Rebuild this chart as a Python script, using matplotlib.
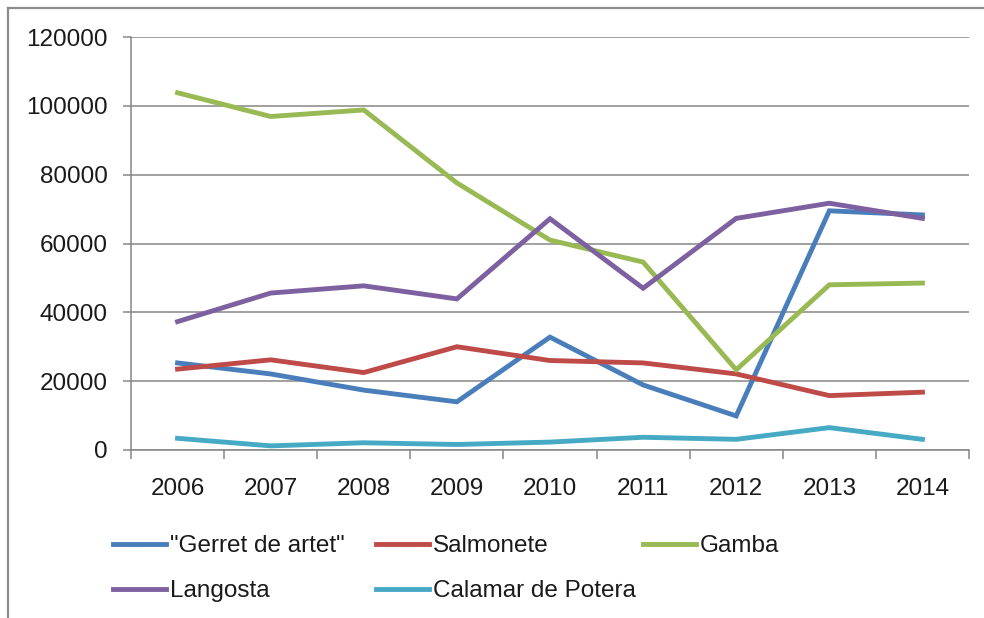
import numpy as np
import matplotlib.pyplot as plt
from matplotlib.lines import Line2D

### Data

years = ["2006", "2007", "2008", "2009", "2010", "2011", "2012", "2013", "2014"]
gerret = [25300, 22100, 17400, 14000, 32800, 18900, 9900, 69500, 68300]
salmonete = [23500, 26200, 22500, 30000, 26000, 25300, 22100, 15800, 16800]
gamba = [103800, 96900, 98800, 77600, 61000, 54600, 23300, 48000, 48500]
langosta = [37300, 45600, 47700, 43900, 67200, 47000, 67300, 71700, 67300]
calamar = [3400, 1200, 2100, 1600, 2300, 3700, 3100, 6500, 3100]

labels = ['"Gerret de artet"', "Salmonete", "Gamba", "Langosta", "Calamar de Potera"]
series = [gerret, salmonete, gamba, langosta, calamar]
colors = ["#4A7EBB", "#BE4B48", "#98B954", "#7D60A0", "#46AAC5"]

plt.rcParams['font.family'] = ['Liberation Sans', 'DejaVu Sans']
fs = 17.5
grey = "#868686"

fig = plt.figure(figsize=(9.84, 6.18), dpi=100)
ax = fig.add_axes([131/984, 1 - 450/618, (969 - 131)/984, (450 - 37)/618])

xvals = np.arange(len(years))
lines = []
for i in range(len(series)):
    ln, = ax.plot(xvals, series[i], color=colors[i], lw=3.5,
                  solid_joinstyle="miter", label=labels[i])
    lines.append(ln)

### Axes

ax.set_xlim(-0.5, len(years) - 0.5)
ax.set_ylim(0, 120000)
ax.set_yticks(np.arange(0, 120001, 20000))
ax.set_yticklabels([str(v) for v in range(0, 120001, 20000)])
ax.yaxis.grid(True, color=grey, lw=1.1)
ax.set_axisbelow(True)

ax.set_xticks(np.arange(-0.5, len(years), 1.0))
ax.set_xticklabels([])
ax.set_xticks(xvals, minor=True)
ax.set_xticklabels(years, minor=True)
ax.tick_params(axis="x", which="major", direction="out", length=6.5, color=grey, width=1.1)
ax.tick_params(axis="x", which="minor", length=0, pad=20.5, labelsize=fs, labelcolor="#1a1a1a")
ax.tick_params(axis="y", direction="out", length=6, color=grey, width=1.1, pad=11,
               labelsize=fs, labelcolor="#1a1a1a")

ax.spines['right'].set_color('none')
ax.spines['top'].set_color('none')
ax.spines['left'].set_color(grey)
ax.spines['bottom'].set_color(grey)
ax.spines['left'].set_linewidth(1.1)
ax.spines['bottom'].set_linewidth(1.1)

### Legend (three columns of equal width, like the spreadsheet)

col_x = [113/984, 376/984, 643/984]
cols = [[0, 3], [1, 4], [2]]
top = 1 - 535/618
for c in range(3):
    fig.legend([lines[k] for k in cols[c]], [labels[k] for k in cols[c]],
               loc="upper left", bbox_to_anchor=(col_x[c], top),
               frameon=False, fontsize=fs, handlelength=2.2, handletextpad=0.15,
               borderpad=0, borderaxespad=0, labelspacing=0.95,
               labelcolor="#1a1a1a")

### Frame (top and left edge of the chart box)

fig.add_artist(Line2D([8/984, 8/984], [0, 1 - 8/618], color="#8c8c8c", lw=1.6,
                      transform=fig.transFigure))
fig.add_artist(Line2D([8/984, 1], [1 - 8/618, 1 - 8/618], color="#8c8c8c", lw=1.6,
                      transform=fig.transFigure))

fig.savefig("out.png", dpi=100)
